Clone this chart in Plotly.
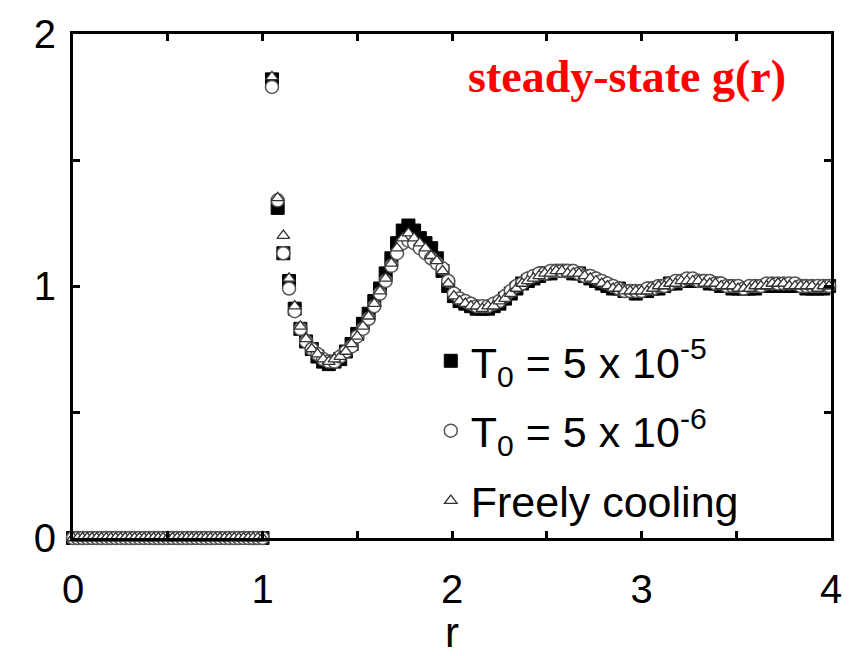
import plotly.graph_objects as go

# ---- data ----
r_zero = [0.0, 0.025, 0.05, 0.075, 0.1, 0.125, 0.15, 0.175, 0.2, 0.225,
          0.25, 0.275, 0.3, 0.325, 0.35, 0.375, 0.4, 0.425, 0.45, 0.475,
          0.5, 0.525, 0.55, 0.575, 0.6, 0.625, 0.65, 0.675, 0.7, 0.725,
          0.75, 0.775, 0.8, 0.825, 0.85, 0.875, 0.9, 0.925, 0.95, 0.975, 1.0]
g_zero = [0, 0, 0, 0, 0, 0, 0, 0, 0, 0,
          0, 0, 0, 0, 0, 0, 0, 0, 0, 0,
          0, 0, 0, 0, 0, 0, 0, 0, 0, 0,
          0, 0, 0, 0, 0, 0, 0, 0, 0, 0, 0]

r_main = [1.05, 1.08, 1.11, 1.14, 1.17, 1.20, 1.23, 1.26, 1.29, 1.32,
          1.35, 1.38, 1.41, 1.44, 1.47, 1.50, 1.53, 1.56, 1.59, 1.62,
          1.65, 1.68, 1.71, 1.74, 1.77, 1.80, 1.83, 1.86, 1.89, 1.92,
          1.95, 1.98, 2.01, 2.04, 2.07, 2.10, 2.13, 2.16, 2.19, 2.22,
          2.25, 2.28, 2.31, 2.34, 2.37, 2.40, 2.43, 2.46, 2.49, 2.52,
          2.55, 2.58, 2.61, 2.64, 2.67, 2.70, 2.73, 2.76, 2.79, 2.82,
          2.85, 2.88, 2.91, 2.94, 2.97, 3.00, 3.03, 3.06, 3.09, 3.12,
          3.15, 3.18, 3.21, 3.24, 3.27, 3.30, 3.33, 3.36, 3.39, 3.42,
          3.45, 3.48, 3.51, 3.54, 3.57, 3.60, 3.63, 3.66, 3.69, 3.72,
          3.75, 3.78, 3.81, 3.84, 3.87, 3.90, 3.93, 3.96, 3.99]

g_T5e5 = [1.82, 1.31, 1.13, 1.02, 0.91, 0.83, 0.78, 0.75, 0.72, 0.70,
          0.69, 0.70, 0.71, 0.74, 0.77, 0.81, 0.85, 0.89, 0.94, 0.99,
          1.05, 1.11, 1.17, 1.22, 1.24, 1.22, 1.19, 1.17, 1.15, 1.11,
          1.06, 1.00, 0.96, 0.94, 0.93, 0.92, 0.91, 0.91, 0.91, 0.92,
          0.93, 0.95, 0.97, 0.99, 1.01, 1.02, 1.03, 1.04, 1.05, 1.05,
          1.06, 1.06, 1.06, 1.05, 1.05, 1.04, 1.03, 1.02, 1.01, 1.00,
          0.99, 0.99, 0.98, 0.98, 0.97, 0.98, 0.98, 0.99, 0.99, 1.00,
          1.01, 1.01, 1.02, 1.02, 1.02, 1.02, 1.02, 1.01, 1.01, 1.00,
          1.00, 0.99, 0.99, 0.99, 0.99, 0.99, 1.00, 1.00, 1.00, 1.00,
          1.00, 1.00, 1.00, 1.00, 0.99, 0.99, 0.99, 0.99, 1.00]

g_T5e6 = [1.79, 1.34, 1.13, 0.99, 0.90, 0.83, 0.78, 0.75, 0.73, 0.71,
          0.70, 0.70, 0.72, 0.74, 0.76, 0.80, 0.83, 0.87, 0.92, 0.97,
          1.02, 1.08, 1.13, 1.17, 1.18, 1.17, 1.15, 1.13, 1.11, 1.09,
          1.07, 1.02, 0.97, 0.95, 0.94, 0.93, 0.92, 0.92, 0.92, 0.93,
          0.94, 0.96, 0.98, 1.00, 1.01, 1.03, 1.04, 1.05, 1.05, 1.06,
          1.06, 1.06, 1.06, 1.06, 1.05, 1.04, 1.04, 1.03, 1.02, 1.01,
          1.00, 0.99, 0.98, 0.98, 0.98, 0.98, 0.99, 0.99, 1.00, 1.00,
          1.01, 1.02, 1.02, 1.03, 1.03, 1.02, 1.02, 1.02, 1.01, 1.01,
          1.00, 1.00, 1.00, 0.99, 1.00, 1.00, 1.00, 1.01, 1.01, 1.01,
          1.01, 1.01, 1.01, 1.00, 1.00, 1.00, 1.00, 1.00, 1.00]

g_free = [1.83, 1.35, 1.20, 1.03, 0.92, 0.84, 0.79, 0.75, 0.73, 0.71,
          0.70, 0.71, 0.72, 0.74, 0.77, 0.80, 0.84, 0.88, 0.93, 0.98,
          1.03, 1.09, 1.15, 1.19, 1.21, 1.19, 1.17, 1.15, 1.12, 1.10,
          1.06, 1.01, 0.96, 0.94, 0.93, 0.92, 0.92, 0.91, 0.92, 0.92,
          0.94, 0.95, 0.97, 0.99, 1.01, 1.02, 1.03, 1.04, 1.05, 1.05,
          1.06, 1.06, 1.05, 1.05, 1.05, 1.04, 1.03, 1.02, 1.01, 1.00,
          0.99, 0.99, 0.98, 0.98, 0.98, 0.98, 0.98, 0.99, 1.00, 1.00,
          1.01, 1.01, 1.02, 1.02, 1.02, 1.02, 1.01, 1.01, 1.01, 1.00,
          1.00, 1.00, 0.99, 0.99, 0.99, 1.00, 1.00, 1.00, 1.01, 1.01,
          1.01, 1.00, 1.00, 1.00, 1.00, 1.00, 0.99, 1.00, 1.00]

labels = ["T<sub>0</sub> = 5 x 10<sup>-5</sup>",
          "T<sub>0</sub> = 5 x 10<sup>-6</sup>",
          "Freely cooling"]
title_text = "steady-state g(r)"

FONT = "Liberation Sans, Arial, sans-serif"

fig = go.Figure()

series = [
    (g_T5e5, labels[0], dict(symbol="square", size=13, color="black",
                             line=dict(color="black", width=1))),
    (g_T5e6, labels[1], dict(symbol="circle", size=13, color="white",
                             line=dict(color="#555555", width=1.5))),
    (g_free, labels[2], dict(symbol="triangle-up", size=11, color="white",
                             line=dict(color="#333333", width=1.3))),
]
for i, (g, name, mk) in enumerate(series):
    fig.add_trace(go.Scatter(
        x=r_zero + r_main, y=g_zero + g, mode="markers", name=name,
        marker=mk, cliponaxis=False, legendgroup=f"g{i}",
    ))

tick_style = dict(ticks="inside", ticklen=7, tickwidth=3, tickcolor="black")
axis_common = dict(
    showline=True, linecolor="black", linewidth=3, mirror="ticks",
    showgrid=False, zeroline=False,
    tickfont=dict(family=FONT, size=40, color="black"),
    tickmode="linear", tick0=0, dtick=1,
    minor=dict(dtick=0.5, tick0=0, showgrid=False, **tick_style),
    **tick_style,
)

fig.update_layout(
    width=858, height=656,
    margin=dict(l=73, r=27, t=32, b=115),
    paper_bgcolor="white", plot_bgcolor="white",
    xaxis=dict(range=[0, 4],
               title=dict(text="r", font=dict(family=FONT, size=42, color="black"),
                          standoff=4),
               ticklabelstandoff=14, **axis_common),
    yaxis=dict(range=[0, 2], ticklabelstandoff=6, **axis_common),
    showlegend=True,
    legend=dict(x=0.472, y=0.42, xanchor="left", yanchor="top",
                bgcolor="rgba(0,0,0,0)", traceorder="grouped",
                tracegroupgap=11, itemsizing="trace",
                font=dict(family=FONT, size=43, color="black")),
    annotations=[dict(text=f"<b>{title_text}</b>", x=0.731, y=0.915,
                      xref="paper", yref="paper", showarrow=False,
                      xanchor="center", yanchor="middle",
                      font=dict(family="Liberation Serif, Times New Roman, serif",
                                size=46, color="red"))],
)

fig.write_html("out.html")
